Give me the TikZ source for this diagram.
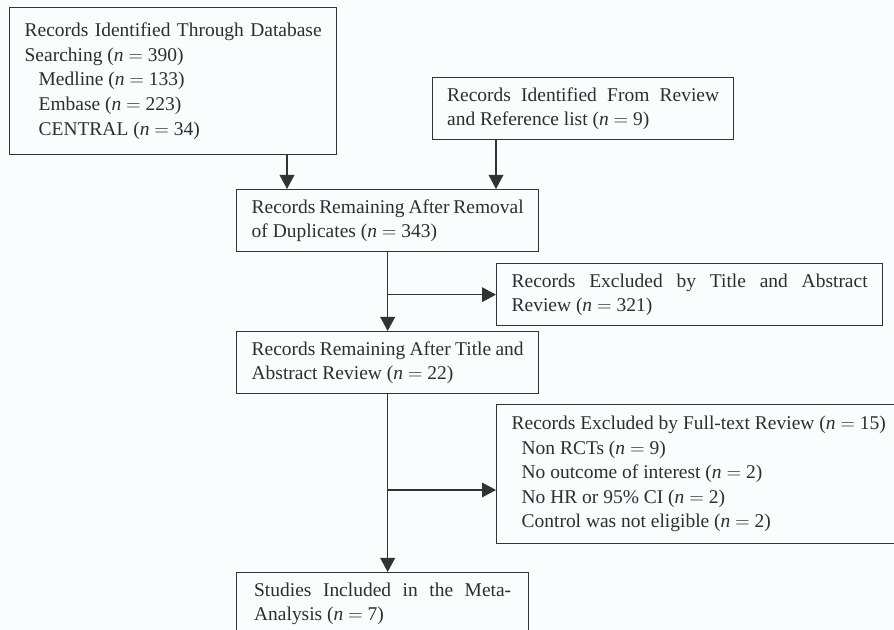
\documentclass[tikz,border=0pt]{standalone}
\usepackage{fontspec}
\setmainfont{Liberation Serif}
\usetikzlibrary{arrows.meta,positioning}
\definecolor{boxgray}{HTML}{333333}
\definecolor{textgray}{HTML}{2E2E2E}
\definecolor{paper}{HTML}{FBFCFD}

\begin{document}
\begin{tikzpicture}[x=0.75pt, y=-0.75pt,
line width=1pt,
box/.style={draw=boxgray, text=textgray, anchor=north west, align=justify,
  inner xsep=11.25pt, inner ysep=0pt, font=\fontsize{14.6}{18.4}\selectfont},
flow/.style={draw=boxgray, -{Triangle[length=10.5pt, width=11pt]}}]

\useasboundingbox (0,0) rectangle (894,630);
\fill[paper] (0,0) rectangle (894,630);
\clip (0,0) rectangle (894,630);

\node[box, text width=222.75pt, minimum height=110.25pt] (dbase) at (9,7)
  {Records Identified Through Database\linebreak Searching (\textit{n} $=$ 390)\\
   \hspace*{10.5pt}Medline (\textit{n} $=$ 133)\\
   \hspace*{10.5pt}Embase (\textit{n} $=$ 223)\\
   \hspace*{10.5pt}CENTRAL (\textit{n} $=$ 34)};
\node[box, text width=204pt, inner xsep=10.875pt, minimum height=46.5pt] (refs) at (432,77)
  {Records Identified From Review\linebreak and Reference list (\textit{n} $=$ 9)};

\node[box, text width=204pt, minimum height=46.5pt] (dedup) at (236,189)
  {Records Remaining After Removal\linebreak of Duplicates (\textit{n} $=$ 343)};
\node[box, text width=267pt, minimum height=46.5pt] (tiabs) at (496,263)
  {Records Excluded by Title and Abstract\linebreak Review (\textit{n} $=$ 321)};

\node[box, text width=204pt, minimum height=46.5pt] (screened) at (236,331)
  {Records Remaining After Title and\linebreak Abstract Review (\textit{n} $=$ 22)};
\node[box, text width=294pt, minimum height=104.25pt] (fulltext) at (496,404)
  {Records Excluded by Full-text Review (\textit{n} $=$ 15)\\
   \hspace*{7.5pt}Non RCTs (\textit{n} $=$ 9)\\
   \hspace*{7.5pt}No outcome of interest (\textit{n} $=$ 2)\\
   \hspace*{7.5pt}No HR or 95\% CI (\textit{n} $=$ 2)\\
   \hspace*{7.5pt}Control was not eligible (\textit{n} $=$ 2)};

\node[box, text width=192.75pt, minimum width=219pt, minimum height=46.5pt] (included) at (236,572)
  {Studies Included in the Meta-\linebreak Analysis (\textit{n} $=$ 7)};

\coordinate (tA) at (287,0);
\coordinate (tF) at (0,490);

\draw[flow] (dbase.south -| tA) -- (dedup.north -| tA);
\draw[flow] (refs.south -| tiabs.west) -- (dedup.north -| tiabs.west);

\draw[flow] (dedup.south) -- (screened.north);
\draw[flow] (dedup.south |- tiabs.west) -- (tiabs.west);

\draw[flow] (screened.south) -- (screened.south |- included.north);
\draw[flow] (screened.south |- tF) -- (fulltext.west |- tF);

\end{tikzpicture}
\end{document}
